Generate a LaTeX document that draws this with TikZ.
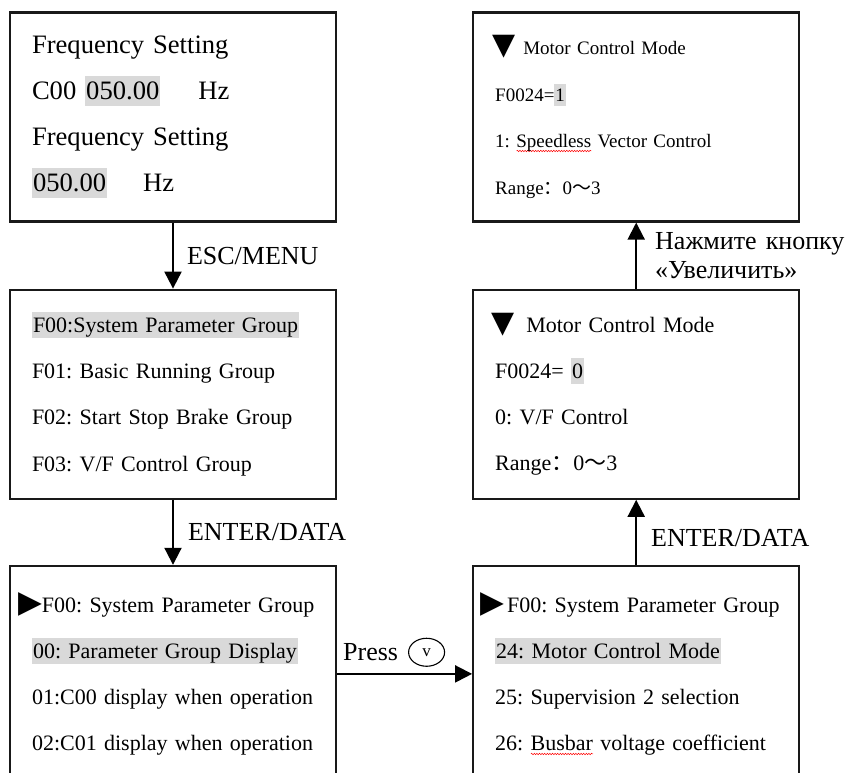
\documentclass[tikz,border=0pt]{standalone}
\usepackage{fontspec}
\setmainfont{Liberation Serif}
\newfontfamily\symfont{DejaVu Sans}
\newfontfamily\cjk{Noto Sans CJK SC}
\usetikzlibrary{arrows.meta, positioning, shapes.geometric, decorations.pathmorphing}

\definecolor{hlgray}{HTML}{D9D9D9}
\newlength\wavelen
\newcommand{\hl}[1]{{\fboxsep=1pt\colorbox{hlgray}{\rule[-0.22em]{0pt}{1.08em}#1}}}
\newcommand{\redwave}[1]{\settowidth\wavelen{#1}\rlap{\raisebox{-4pt}{\tikz\draw[red, line width=0.5pt, decorate, decoration={snake, amplitude=0.7pt, segment length=2.6pt}] (0pt,0pt) -- (\wavelen,0pt);}}#1}
\newcommand{\rtri}{{\symfont\fontsize{31}{31}\selectfont ▶}}
\newcommand{\dtri}{{\symfont\fontsize{30}{30}\selectfont ▼}}
\frenchspacing

\begin{document}
\begin{tikzpicture}[
    x=1pt, y=-1pt,
    screen/.style={draw=black!90, line width=2.2pt, minimum height=209pt, text width=282pt, inner xsep=22pt, align=left},
    bigtext/.style={font=\fontsize{26.6}{46}\selectfont},
    midtext/.style={font=\fontsize{22}{46.3}\selectfont},
    smalltext/.style={font=\fontsize{19}{46.7}\selectfont},
    lbl/.style={font=\fontsize{26}{29}\selectfont, inner sep=0pt, align=left},
    arr/.style={line width=2pt, -{Triangle[width=17pt,length=17pt]}},
    keycirc/.style={draw, ellipse, line width=1.1pt, minimum width=36pt, minimum height=28pt, inner sep=0pt, font=\fontsize{17}{17}\selectfont}
]
    \useasboundingbox (0,0) rectangle (852,772);
    \clip (0,0) rectangle (852,772);

    % Left column
    \node (freq) [screen, bigtext] at (173,117) {Frequency Setting\\C00 \hl{050.00}\hspace{38pt}Hz\\Frequency Setting\\\hl{050.00}\hspace{36pt}Hz};
    \node (groups) [screen, midtext, below=66pt of freq] {\hl{F00:System Parameter Group}\\F01: Basic Running Group\\F02: Start Stop Brake Group\\F03: V/F Control Group};
    \node (params) [screen, midtext, minimum height=216pt, below=65pt of groups] {\mbox{\hspace*{-14pt}\rtri F00: System Parameter Group}\\\hl{00: Parameter Group Display}\\01:C00 display when operation\\02:C01 display when operation};

    % Right column
    \node (motor) [screen, midtext, minimum height=216pt, right=135pt of params] {\mbox{\hspace*{-15pt}\rtri\hspace{3pt}F00: System Parameter Group}\\\hl{24: Motor Control Mode}\\25: Supervision 2 selection\\26: \redwave{Busbar} voltage coefficient};
    \node (mode0) [screen, midtext, above=65pt of motor] {\hspace*{-4pt}\dtri\hspace{12pt}Motor Control Mode\\F0024= \hl{0}\\0: V/F Control\\Range{\cjk：}0{\cjk ～}3};
    \node (mode1) [screen, smalltext, above=66pt of mode0] {\hspace*{-3pt}\dtri\hspace{8pt}Motor Control Mode\\F0024=\hl{1}\\1: \redwave{Speedless} Vector Control\\Range{\cjk：}0{\cjk ～}3};

    % Key presses
    \draw[arr] (freq) -- node[lbl, right=13pt] (esc) {ESC/MENU} (groups);
    \draw[arr] (groups) -- node[lbl, right=14pt] (enterl) {ENTER/DATA} (params);
    \draw[arr] (params) -- node[lbl, above=12pt, xshift=-34pt] (press) {Press} (motor);
    \node (vkey) [keycirc, right=9pt of press] {v};
    \draw[arr] (motor) -- node[lbl, right=14pt, yshift=-6pt] (enterr) {ENTER/DATA} (mode0);
    \draw[arr] (mode0) -- node[lbl, right=18pt] (incr) {Нажмите\hspace{9pt}кнопку\\«Увеличить»} (mode1);
\end{tikzpicture}
\end{document}
